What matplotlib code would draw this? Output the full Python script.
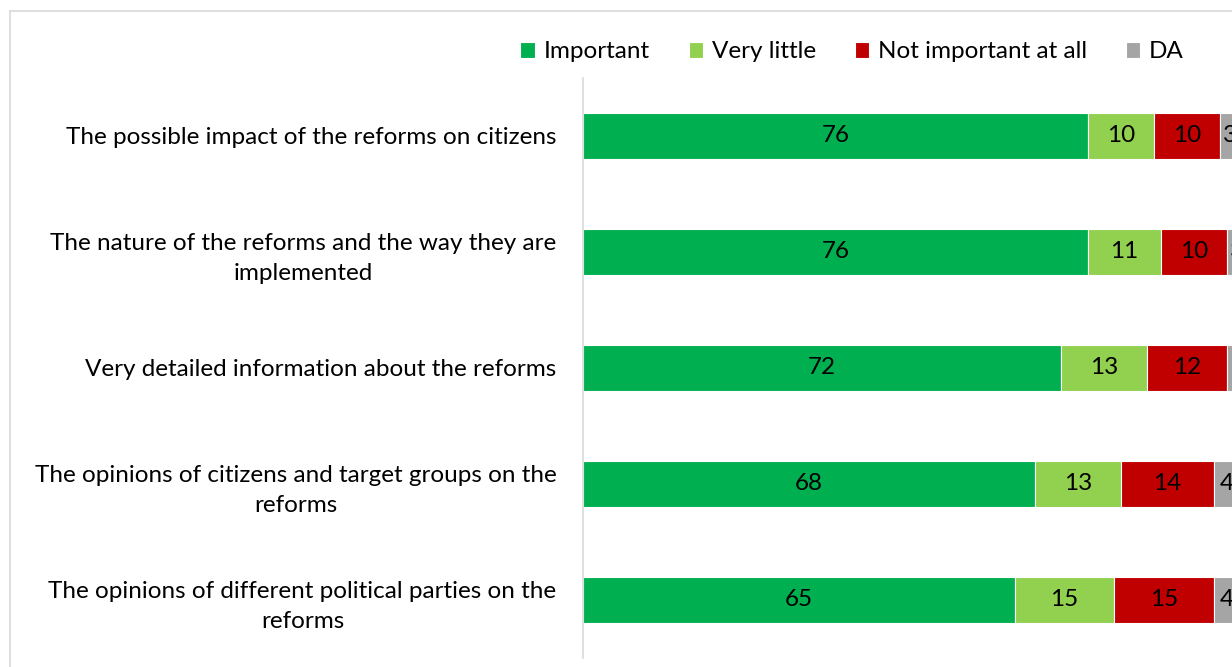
# Importance of information about reforms - stacked horizontal bars
import matplotlib.pyplot as plt
from matplotlib.lines import Line2D

categories = [
    'The possible impact of the reforms on citizens',
    'The nature of the reforms and the way they are\nimplemented',
    'Very detailed information about the reforms',
    'The opinions of citizens and target groups on the\nreforms',
    'The opinions of different political parties on the\nreforms',
]
series = ['Important', 'Very little', 'Not important at all', 'DA']
values = [
    [76, 76, 72, 68, 65],  # Important
    [10, 11, 13, 13, 15],  # Very little
    [10, 10, 12, 14, 15],  # Not important at all
    [3, 3, 4, 4, 4],       # DA
]
colors = ['#00B050', '#92D050', '#C00000', '#A5A5A5']

plt.rcParams['font.family'] = ['Lato', 'DejaVu Sans']

fig = plt.figure(figsize=(12.32, 6.67), dpi=100)
ax = fig.add_axes([583 / 1232, 9 / 667, 664 / 1232, 580 / 667])

y = list(range(len(categories)))
left = [0] * len(categories)
for name, vals, col in zip(series, values, colors):
    bars = ax.barh(y, vals, left=left, height=0.4, color=col, label=name,
                   edgecolor='white', linewidth=0.8)
    for b, v in zip(bars, vals):
        ax.text(b.get_x() + b.get_width() / 2, b.get_y() + b.get_height() / 2,
                str(v), ha='center', va='center', fontsize=17.5, color='black')
    left = [l + v for l, v in zip(left, vals)]

ax.set_xlim(0, 100)
ax.set_ylim(len(categories) - 0.5, -0.5)
ax.set_xticks([])
ax.set_yticks(y)
ax.set_yticklabels(categories, fontsize=17.5)
for lbl in ax.get_yticklabels():
    lbl.set_multialignment('center')
    lbl.set_linespacing(1.55)
ax.tick_params(axis='y', length=0, pad=19)

for side in ['top', 'right', 'bottom']:
    ax.spines[side].set_visible(False)
ax.spines['left'].set_color('#D9D9D9')
ax.spines['left'].set_linewidth(1.2)

fig.legend(loc='center', bbox_to_anchor=(852 / 1232, 1 - 52 / 667), ncol=4,
           frameon=False, fontsize=17.5, handlelength=0.6, handleheight=0.6,
           handletextpad=0.35, columnspacing=1.6)

# outer chart border
fig.add_artist(Line2D([10 / 1232, 1], [1 - 11 / 667, 1 - 11 / 667],
                      color='#D9D9D9', linewidth=1.2))
fig.add_artist(Line2D([10 / 1232, 10 / 1232], [0, 1 - 11 / 667],
                      color='#D9D9D9', linewidth=1.2))

fig.savefig('out.png', dpi=100)
